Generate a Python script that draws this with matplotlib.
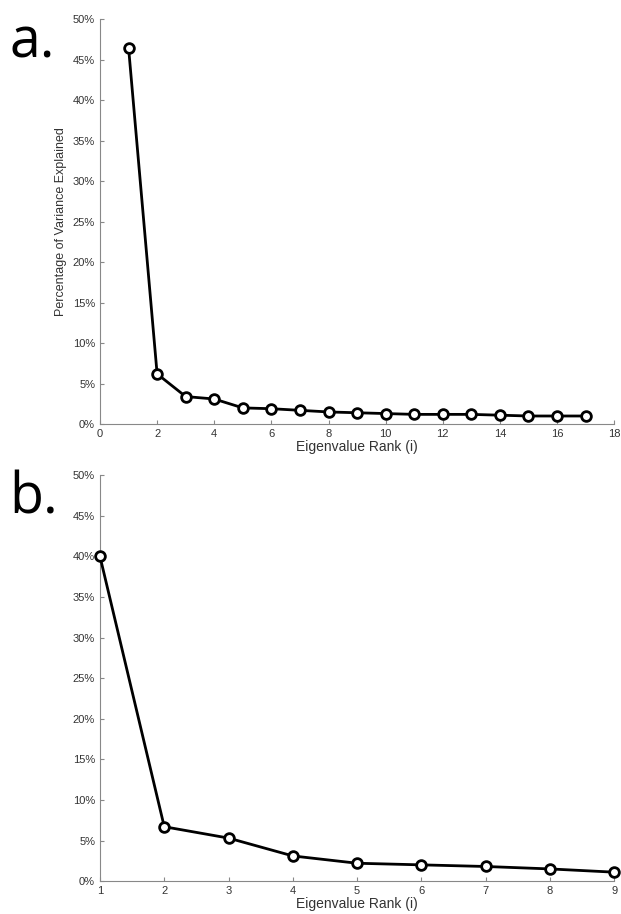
import matplotlib
matplotlib.use("Agg")
import matplotlib.pyplot as plt
from matplotlib.ticker import FuncFormatter

rank_a = list(range(1, 18))
var_a = [46.5, 6.2, 3.4, 3.1, 2.0, 1.9, 1.7, 1.5, 1.4, 1.3, 1.2, 1.2, 1.2, 1.1, 1.0, 1.0, 1.0]
rank_b = list(range(1, 10))
var_b = [40.0, 6.7, 5.3, 3.1, 2.2, 2.0, 1.8, 1.5, 1.1]
yticks = [0, 5, 10, 15, 20, 25, 30, 35, 40, 45, 50]

plt.rcParams['font.family'] = ['Liberation Sans', 'DejaVu Sans']
fig = plt.figure(figsize=(6.21, 9.14), dpi=100)
axa = fig.add_axes([0.161, 0.536, 0.828, 0.443])
axb = fig.add_axes([0.161, 0.036, 0.828, 0.444])

for ax, x, y, xlim, xt, lab in [(axa, rank_a, var_a, (0, 18), range(0, 19, 2), 'a.'),
                                 (axb, rank_b, var_b, (1, 9), range(1, 10), 'b.')]:
    ax.plot(x, y, color='black', lw=2, marker='o', ms=7, mfc='white', mec='black', mew=2, clip_on=False, zorder=5)
    ax.set_xlim(*xlim)
    ax.set_ylim(0, 50)
    ax.set_xticks(list(xt))
    ax.set_yticks(yticks)
    ax.yaxis.set_major_formatter(FuncFormatter(lambda v, p: f"{int(v)}%"))
    for s in ['top', 'right']:
        ax.spines[s].set_visible(False)
    for s in ['left', 'bottom']:
        ax.spines[s].set_color('#888888')
    ax.tick_params(colors='#888888', labelcolor='#333333', labelsize=8, length=3, direction='in')
    ax.set_xlabel('Eigenvalue Rank (i)', fontsize=10, color='#333333', labelpad=1)
    fig.text(0.015, ax.get_position().y1 + 0.005, lab, fontsize=40, va='top', ha='left', family=['Open Sans', 'DejaVu Sans'])

axa.set_ylabel('Percentage of Variance Explained', fontsize=9, color='#333333')
fig.savefig('out.png', dpi=100)
